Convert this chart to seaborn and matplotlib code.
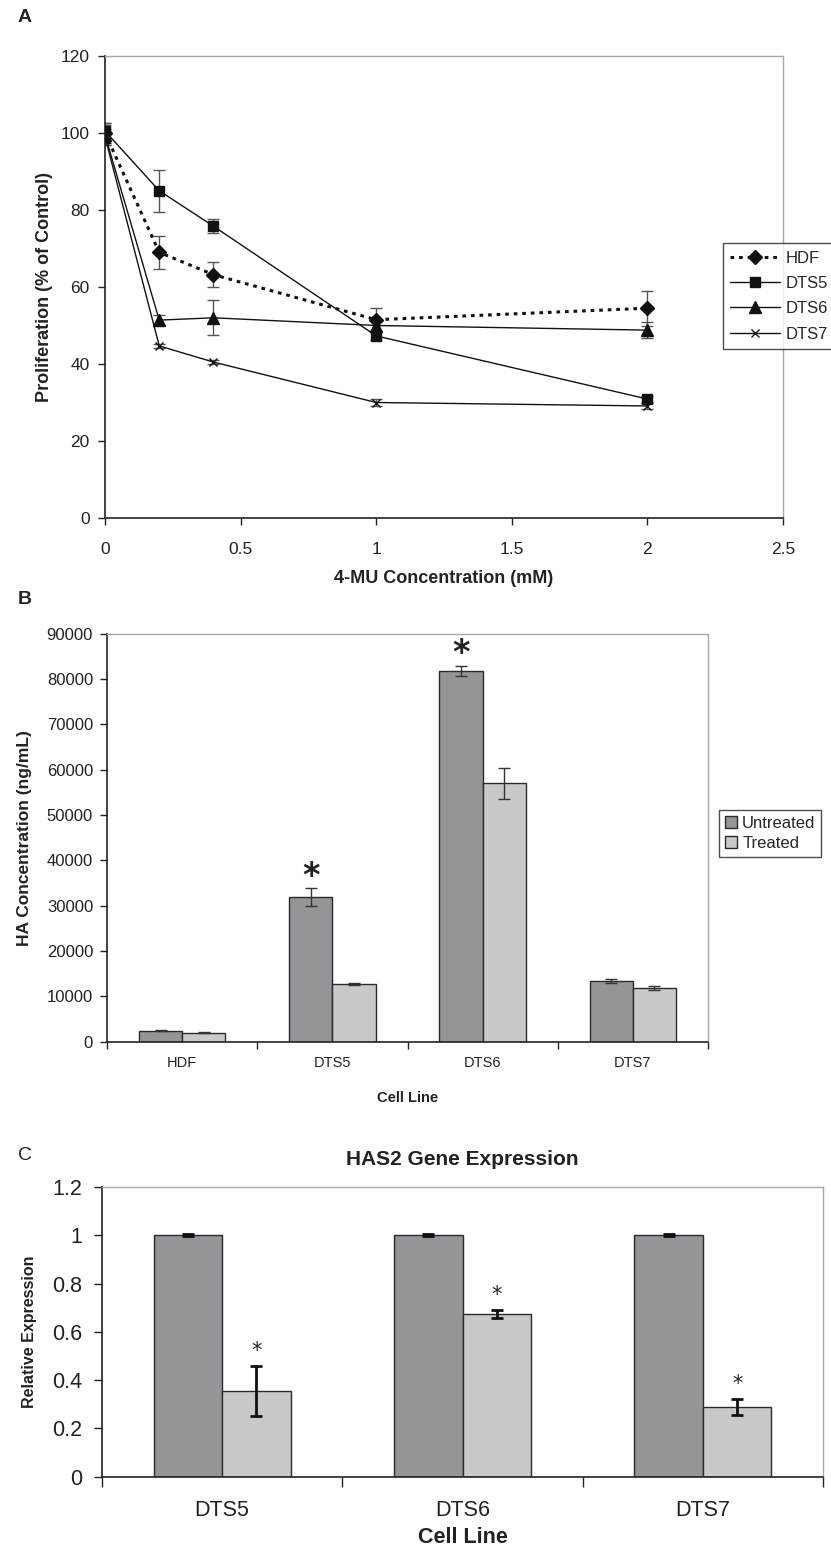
import matplotlib
matplotlib.use('Agg')
import matplotlib.pyplot as plt
import seaborn as sns
import numpy as np
import pandas as pd

# ---------------- Panel A data ----------------
conc = [0, 0.2, 0.4, 1, 2]
hdf_vals = [100.0, 69.0, 63.2, 51.5, 54.5]
hdf_err = [2.5, 4.2, 3.3, 3.0, 4.5]
dts5_vals = [100.5, 85.0, 75.8, 47.3, 30.9]
dts5_err = [2.0, 5.5, 1.8, 1.0, 0.8]
dts6_vals = [99.5, 51.4, 52.0, 50.0, 48.8]
dts6_err = [2.5, 1.2, 4.5, 1.5, 2.0]
dts7_vals = [99.0, 44.7, 40.5, 30.0, 29.1]
dts7_err = [2.0, 0.6, 0.6, 0.8, 0.8]
series_a = ['HDF', 'DTS5', 'DTS6', 'DTS7']

# ---------------- Panel B data ----------------
cell_lines_b = ['HDF', 'DTS5', 'DTS6', 'DTS7']
untreated_b = [2400, 31900, 81800, 13400]
untreated_b_err = [120, 1900, 1100, 500]
treated_b = [2000, 12700, 57000, 11900]
treated_b_err = [120, 200, 3400, 400]
groups = ['Untreated', 'Treated']

# ---------------- Panel C data ----------------
cell_lines_c = ['DTS5', 'DTS6', 'DTS7']
untreated_c = [1.0, 1.0, 1.0]
untreated_c_err = [0.004, 0.004, 0.004]
treated_c = [0.355, 0.673, 0.288]
treated_c_err = [0.105, 0.017, 0.032]

sns.set_theme(style='white')
plt.rcParams['font.family'] = ['Liberation Sans', 'DejaVu Sans']
NARROW = ['Liberation Sans Narrow', 'Liberation Sans', 'DejaVu Sans']

W, H = 831, 1551
fig = plt.figure(figsize=(W / 100, H / 100), dpi=100)
fig.patch.set_facecolor('white')


def axes_px(left, top, right, bottom):
    return fig.add_axes([left / W, 1 - bottom / H, (right - left) / W, (bottom - top) / H])


def style_spines(ax):
    for s in ['top', 'right']:
        ax.spines[s].set_color('#a8a8a8')
        ax.spines[s].set_linewidth(1.0)
    for s in ['left', 'bottom']:
        ax.spines[s].set_color('#222222')
        ax.spines[s].set_linewidth(1.2)
    ax.set_facecolor('white')


UNT_C = '#939598'
TRT_C = '#c8c9cb'
INK = '#222222'

# ======================= Panel A =======================
axA = axes_px(105, 56, 783, 518)
style_spines(axA)
markers = {'HDF': 'D', 'DTS5': 's', 'DTS6': '^', 'DTS7': 'x'}
msizes = {'HDF': 7, 'DTS5': 7, 'DTS6': 8, 'DTS7': 6}
vals = {'HDF': hdf_vals, 'DTS5': dts5_vals, 'DTS6': dts6_vals, 'DTS7': dts7_vals}
errs = {'HDF': hdf_err, 'DTS5': dts5_err, 'DTS6': dts6_err, 'DTS7': dts7_err}
for name in series_a:
    axA.errorbar(conc, vals[name], yerr=errs[name], fmt='none', ecolor='#555555',
                 elinewidth=1.0, capsize=4, capthick=1.0, zorder=2)
for name in series_a:
    ls = (0, (1.2, 1.6)) if name == 'HDF' else '-'
    lw = 2.2 if name == 'HDF' else 1.0
    sns.lineplot(x=conc, y=vals[name], ax=axA, color='#111111', marker=markers[name],
                 markersize=msizes[name], markeredgecolor='#111111', markerfacecolor='#111111',
                 markeredgewidth=1.0, linestyle=ls, linewidth=lw, label=name, zorder=3,
                 errorbar=None)
axA.set_xlim(0, 2.5)
axA.set_ylim(0, 120)
axA.set_xticks([0, 0.5, 1, 1.5, 2, 2.5])
axA.set_xticklabels(['0', '0.5', '1', '1.5', '2', '2.5'])
axA.set_yticks([0, 20, 40, 60, 80, 100, 120])
axA.tick_params(axis='y', which='major', direction='out', length=5, width=1,
                color=INK, labelsize=12.5, pad=6, left=True)
axA.tick_params(axis='x', which='major', direction='out', length=5, width=1,
                color=INK, labelsize=12.5, pad=12, bottom=True)
axA.set_xlabel('4-MU Concentration (mM)', fontsize=13, fontweight='bold', color=INK)
axA.set_ylabel('Proliferation (% of Control)', fontsize=13, fontweight='bold', color=INK)
axA.xaxis.set_label_coords(0.5, -0.112)
axA.yaxis.set_label_coords(-0.076, 0.5)
hA, lA = axA.get_legend_handles_labels()
legA = axA.legend(hA, lA, loc='upper left', bbox_to_anchor=(0.9115, 0.595), borderaxespad=0,
                  frameon=True, fancybox=False, edgecolor=INK, fontsize=12,
                  handlelength=3.0, handletextpad=0.3, labelspacing=0.62, borderpad=0.45)
legA.get_frame().set_linewidth(1.0)

# ======================= Panel B =======================
axB = axes_px(107, 633.5, 708, 1041.7)
style_spines(axB)
dfB = pd.DataFrame({
    'Cell Line': cell_lines_b * 2,
    'Group': [groups[0]] * len(cell_lines_b) + [groups[1]] * len(cell_lines_b),
    'HA': untreated_b + treated_b,
})
sns.barplot(data=dfB, x='Cell Line', y='HA', hue='Group', hue_order=groups, order=cell_lines_b,
            palette={'Untreated': UNT_C, 'Treated': TRT_C}, edgecolor='#2a2a2a', linewidth=1.0,
            width=0.575, errorbar=None, ax=axB, saturation=1, gap=0)
for cont, e in zip(axB.containers, [untreated_b_err, treated_b_err]):
    xs = [p.get_x() + p.get_width() / 2 for p in cont.patches]
    hs = [p.get_height() for p in cont.patches]
    axB.errorbar(xs, hs, yerr=e, fmt='none', ecolor='#333333', elinewidth=1.0,
                 capsize=4, capthick=1.0, zorder=5)
unt_patches = axB.containers[0].patches
for idx in [1, 2]:
    p = unt_patches[idx]
    axB.text(p.get_x() + p.get_width() / 2, untreated_b[idx] + untreated_b_err[idx] + 2600, '*',
             ha='center', va='center', fontsize=24, fontweight='bold', color=INK,
             family='DejaVu Sans')
axB.set_ylim(0, 90000)
axB.set_xlim(-0.5, len(cell_lines_b) - 0.5)
axB.set_yticks(np.arange(0, 90001, 10000))
axB.tick_params(axis='y', direction='out', length=5, width=1, color=INK, labelsize=12,
                pad=5, left=True)
axB.tick_params(axis='x', which='major', length=0, labelsize=10.5, pad=10)
axB.set_xticks(np.arange(-0.5, len(cell_lines_b), 1.0), minor=True)
axB.tick_params(axis='x', which='minor', direction='out', length=5, width=1, color=INK,
                bottom=True)
axB.set_xlabel('Cell Line', fontsize=10.5, fontweight='bold', family=NARROW, color=INK)
axB.set_ylabel('HA Concentration (ng/mL)', fontsize=12.5, fontweight='bold', color=INK)
axB.xaxis.set_label_coords(0.5, -0.121)
axB.yaxis.set_label_coords(-0.124, 0.5)
hB, lB = axB.get_legend_handles_labels()
legB = axB.legend(hB, lB, loc='upper left', bbox_to_anchor=(1.018, 0.567), borderaxespad=0,
                  frameon=True, fancybox=False, edgecolor=INK, fontsize=12,
                  handlelength=0.75, handleheight=0.75, handletextpad=0.3, labelspacing=0.3,
                  borderpad=0.35)
legB.get_frame().set_linewidth(1.0)

# ======================= Panel C =======================
axC = axes_px(102, 1187, 823, 1476.7)
style_spines(axC)
dfC = pd.DataFrame({
    'Cell Line': cell_lines_c * 2,
    'Group': [groups[0]] * len(cell_lines_c) + [groups[1]] * len(cell_lines_c),
    'Expr': untreated_c + treated_c,
})
sns.barplot(data=dfC, x='Cell Line', y='Expr', hue='Group', hue_order=groups, order=cell_lines_c,
            palette={'Untreated': UNT_C, 'Treated': TRT_C}, edgecolor='#2a2a2a', linewidth=1.0,
            width=0.57, errorbar=None, ax=axC, saturation=1, gap=0, legend=False)
for cont, e in zip(axC.containers, [untreated_c_err, treated_c_err]):
    xs = [p.get_x() + p.get_width() / 2 for p in cont.patches]
    hs = [p.get_height() for p in cont.patches]
    axC.errorbar(xs, hs, yerr=e, fmt='none', ecolor='#111111', elinewidth=2.0,
                 capsize=4, capthick=2.0, zorder=5)
trt_patches = axC.containers[1].patches
for i, p in enumerate(trt_patches):
    axC.text(p.get_x() + p.get_width() / 2, treated_c[i] + treated_c_err[i] + 0.062, '*',
             ha='center', va='center', fontsize=15, color=INK, family='DejaVu Sans')
axC.set_ylim(0, 1.2)
axC.set_xlim(-0.5, len(cell_lines_c) - 0.5)
axC.set_yticks([0, 0.2, 0.4, 0.6, 0.8, 1.0, 1.2])
axC.set_yticklabels(['0', '0.2', '0.4', '0.6', '0.8', '1', '1.2'])
for lab in axC.get_yticklabels():
    lab.set_family(NARROW)
axC.tick_params(axis='y', direction='out', length=6, width=1, color=INK, labelsize=15.5,
                pad=8, left=True)
axC.tick_params(axis='x', which='major', length=0, labelsize=15.5, pad=17)
for lab in axC.get_xticklabels():
    lab.set_family(NARROW)
axC.set_xticks(np.arange(-0.5, len(cell_lines_c), 1.0), minor=True)
axC.tick_params(axis='x', which='minor', direction='out', length=7, width=1, color=INK,
                bottom=True)
axC.set_xlabel('Cell Line', fontsize=15.5, fontweight='bold', family=NARROW, color=INK)
axC.set_ylabel('Relative Expression', fontsize=11.5, fontweight='bold', color=INK)
axC.xaxis.set_label_coords(0.5, -0.172)
axC.yaxis.set_label_coords(-0.09, 0.5)
axC.set_title('HAS2 Gene Expression', fontsize=15, fontweight='bold', family=NARROW,
              color=INK, pad=16)

for ax in (axA, axB, axC):
    for lab in ax.get_xticklabels() + ax.get_yticklabels():
        lab.set_color(INK)

# panel letters
fig.text(18 / W, 1 - 18 / H, 'A', fontsize=14, fontweight='bold', ha='left', va='center')
fig.text(18 / W, 1 - 600 / H, 'B', fontsize=14, fontweight='bold', ha='left', va='center')
fig.text(18 / W, 1 - 1155 / H, 'C', fontsize=14, family=NARROW, ha='left', va='center')

fig.savefig('out.png', dpi=100, facecolor='white')
